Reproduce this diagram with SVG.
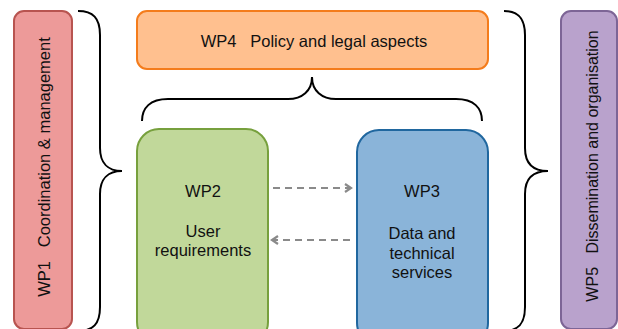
<svg xmlns="http://www.w3.org/2000/svg" width="618" height="329" viewBox="0 0 618 329">
<style>
.t{font-family:"Liberation Sans",Arial,sans-serif;font-size:16.5px;fill:#111;text-anchor:middle;dominant-baseline:central}
.br{fill:none;stroke:#000;stroke-width:2}
.ar{fill:none;stroke:#8a8a8a;stroke-width:2.2;stroke-dasharray:7 5}
</style>
<defs>
<marker id="ah" viewBox="0 0 10 10" refX="8" refY="5" markerWidth="10" markerHeight="10" markerUnits="userSpaceOnUse" orient="auto">
<path d="M2,1 L8,5 L2,9" fill="none" stroke="#8a8a8a" stroke-width="2.2"/>
</marker>
</defs>
<rect width="618" height="329" fill="#fff"/>
<g id="wp1">
<rect x="14" y="11" width="58" height="318" rx="10" fill="#ed9a99" stroke="#b85450" stroke-width="2"/>
<text class="t" transform="translate(44,167) rotate(-90)" xml:space="preserve">WP1   Coordination &amp; management</text>
</g>
<g id="wp4">
<rect x="137" y="11" width="351" height="58" rx="10" fill="#ffc08f" stroke="#f47c1c" stroke-width="2"/>
<text class="t" x="314" y="41" xml:space="preserve">WP4   Policy and legal aspects</text>
</g>
<g id="wp2">
<rect x="137" y="129" width="131" height="215" rx="22" fill="#c1d89a" stroke="#77a03d" stroke-width="2"/>
<text class="t" x="203" y="191">WP2</text>
<text class="t" x="203" y="231">User</text>
<text class="t" x="203" y="250">requirements</text>
</g>
<g id="wp3">
<rect x="357" y="130" width="131" height="215" rx="22" fill="#8ab4d9" stroke="#20679f" stroke-width="2"/>
<text class="t" x="422" y="191">WP3</text>
<text class="t" x="422" y="233">Data and</text>
<text class="t" x="422" y="253">technical</text>
<text class="t" x="422" y="272">services</text>
</g>
<g id="wp5">
<rect x="561" y="11" width="56" height="318" rx="10" fill="#b9a2cc" stroke="#7d6596" stroke-width="2"/>
<text class="t" style="font-size:16px" transform="translate(592,166) rotate(-90)" xml:space="preserve">WP5   Dissemination and organisation</text>
</g>
<g id="connectors">
<path class="br" d="M78,11 C93,11 100,18 100,35 L100,148 C100,163 108,171 122,171 C108,171 100,179 100,194 L100,307 C100,324 93,331 78,331"/>
<path class="br" d="M504,11 C518,11 525,18 525,35 L525,148 C525,163 533,171 548,171 C533,171 525,179 525,194 L525,307 C525,324 518,331 504,331"/>
<path class="br" d="M142,121 C142,108 150,99 168,99 L288,99 C302,99 312,91 312,77 C312,91 322,99 336,99 L456,99 C474,99 482,108 482,121"/>
<line class="ar" x1="273" y1="188" x2="351" y2="188" marker-end="url(#ah)"/>
<line class="ar" x1="350" y1="240" x2="272" y2="240" marker-end="url(#ah)"/>
</g>
</svg>
